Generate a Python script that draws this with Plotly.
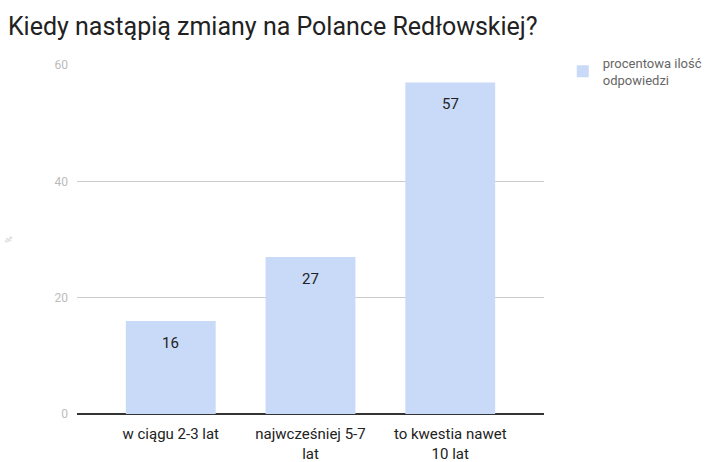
import plotly.graph_objects as go

categories = ["w ciągu 2-3 lat", "najwcześniej 5-7<br>lat", "to kwestia nawet<br>10 lat"]
values = [16, 27, 57]
series_name = "procentowa ilość<br>odpowiedzi"
y_ticks = [0, 20, 40, 60]

fig = go.Figure()
fig.add_trace(go.Bar(
    x=categories, y=values, name=series_name,
    marker=dict(color="#c9daf8", line=dict(width=0)),
    width=0.643,
    showlegend=True,
))

for c, v in zip(categories, values):
    fig.add_annotation(x=c, y=v, text=str(v), showarrow=False, yshift=-22,
                       font=dict(family="Roboto", size=15, color="#222222"))

fig.update_layout(
    width=718, height=462,
    margin=dict(l=77, r=173, t=65, b=48),
    paper_bgcolor="white", plot_bgcolor="white",
    font=dict(family="Roboto", color="#222222"),
    title=dict(text="Kiedy nastąpią zmiany na Polance Redłowskiej?",
               x=0.011, xanchor="left", y=0.944, yanchor="middle",
               font=dict(family="Roboto", size=25, color="#222222")),
    legend=dict(x=1.038, xanchor="left", y=1.049, yanchor="top",
                font=dict(family="Roboto", size=13, color="#666666"),
                itemwidth=30),
)
fig.update_xaxes(range=[-0.671, 2.671], showgrid=False, ticks="",
                 tickfont=dict(family="Roboto", size=15, color="#222222"),
                 ticklabelstandoff=9, automargin=False,
                 showline=False, zeroline=False)
fig.update_yaxes(range=[0, 60], tickvals=y_ticks, showgrid=True, gridcolor="#cccccc",
                 gridwidth=1, zeroline=True, zerolinecolor="#333333", zerolinewidth=2,
                 tickfont=dict(family="Roboto", size=12, color="#bbbbbb"),
                 ticklabelstandoff=8, automargin=False,
                 title=dict(text="%", font=dict(size=9, color="#cccccc"), standoff=40))

fig.write_html("out.html")
